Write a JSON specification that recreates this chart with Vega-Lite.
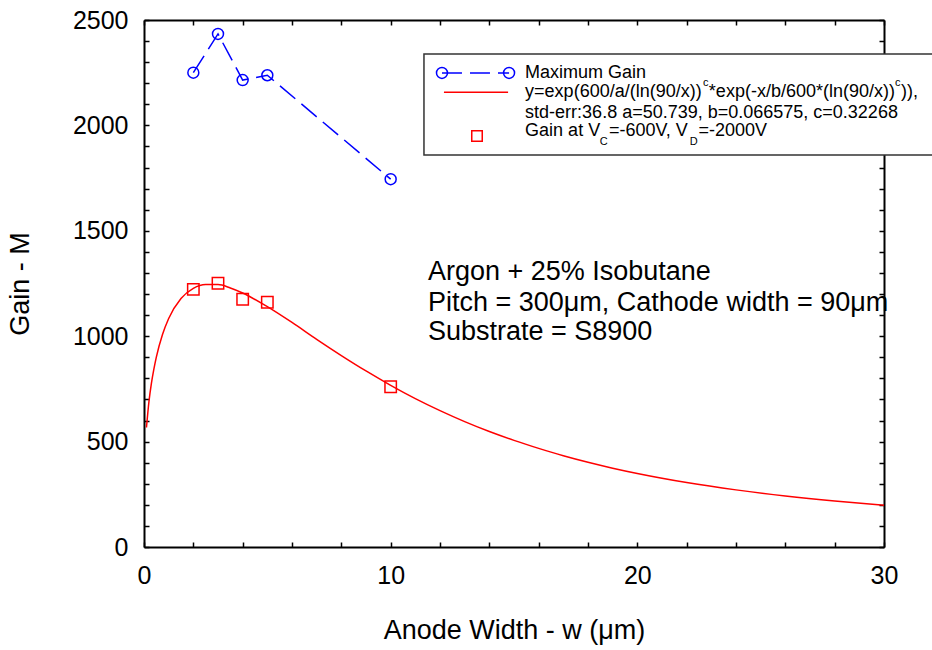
{
  "$schema": "https://vega.github.io/schema/vega-lite/v6.json",
  "width": 740,
  "height": 527,
  "autosize": {"type": "none"},
  "padding": {"left": 144, "top": 20, "right": 48, "bottom": 103},
  "background": "white",
  "config": {
    "view": {"stroke": null},
    "font": "Liberation Sans",
    "axis": {
      "grid": false,
      "domainColor": "black",
      "domainWidth": 2,
      "tickColor": "black",
      "tickWidth": 1.5,
      "tickSize": -5,
      "labelFont": "Liberation Sans",
      "labelFontSize": 25,
      "labelColor": "black",
      "labelOverlap": false,
      "labelFlush": false,
      "labelBound": false,
      "titleFont": "Liberation Sans",
      "titleFontSize": 27,
      "titleFontWeight": "normal",
      "titleColor": "black"
    }
  },
  "datasets": {
    "curve": [
      {"w": 0.1, "gain": 567}, {"w": 0.2, "gain": 689}, {"w": 0.3, "gain": 776}, {"w": 0.4, "gain": 844},
      {"w": 0.5, "gain": 901}, {"w": 0.75, "gain": 1008}, {"w": 1, "gain": 1084}, {"w": 1.5, "gain": 1179},
      {"w": 2, "gain": 1227}, {"w": 2.5, "gain": 1245}, {"w": 3, "gain": 1245}, {"w": 3.5, "gain": 1229},
      {"w": 4, "gain": 1205}, {"w": 5, "gain": 1140}, {"w": 6, "gain": 1065}, {"w": 7, "gain": 985},
      {"w": 8, "gain": 908}, {"w": 9, "gain": 835}, {"w": 10, "gain": 767}, {"w": 11, "gain": 704},
      {"w": 12, "gain": 647}, {"w": 13, "gain": 595}, {"w": 14, "gain": 548}, {"w": 15, "gain": 506},
      {"w": 16, "gain": 468}, {"w": 17, "gain": 433}, {"w": 18, "gain": 402}, {"w": 19, "gain": 374},
      {"w": 20, "gain": 349}, {"w": 22, "gain": 306}, {"w": 24, "gain": 271}, {"w": 26, "gain": 242},
      {"w": 28, "gain": 218}, {"w": 30, "gain": 198}
    ],
    "maxgain": [
      {"w": 2, "gain": 2250}, {"w": 3, "gain": 2434}, {"w": 4, "gain": 2215}, {"w": 5, "gain": 2238}, {"w": 10, "gain": 1745}
    ],
    "gain600": [
      {"w": 2, "gain": 1222}, {"w": 3, "gain": 1251}, {"w": 4, "gain": 1175}, {"w": 5, "gain": 1161}, {"w": 10, "gain": 760}
    ],
    "legendBox": [{"x1": 11.35, "x2": 33, "y1": 1860, "y2": 2339}],
    "legendBlue": [{"x": 12.08, "y": 2249}, {"x": 14.8, "y": 2249}],
    "legendRed": [{"x": 12.16, "y": 2157}, {"x": 14.76, "y": 2157}],
    "legendSquare": [{"x": 13.5, "y": 1950}],
    "legendText": [
      {"x": 15.45, "y": 2247, "label": "Maximum Gain", "role": "main"},
      {"x": 15.45, "y": 2157, "label": "y=exp(600/a/(ln(90/x))", "role": "main"},
      {"x": 22.66, "y": 2203, "label": "c", "role": "script"},
      {"x": 22.9, "y": 2157, "label": "*exp(-x/b/600*(ln(90/x))", "role": "main"},
      {"x": 30.45, "y": 2203, "label": "c", "role": "script"},
      {"x": 30.69, "y": 2157, "label": "))," , "role": "main"},
      {"x": 15.45, "y": 2061, "label": "std-err:36.8 a=50.739, b=0.066575, c=0.32268", "role": "main"},
      {"x": 15.45, "y": 1973, "label": "Gain at V", "role": "main"},
      {"x": 18.48, "y": 1921, "label": "C", "role": "script"},
      {"x": 18.85, "y": 1973, "label": "=-600V, V", "role": "main"},
      {"x": 22.13, "y": 1921, "label": "D", "role": "script"},
      {"x": 22.48, "y": 1973, "label": "=-2000V", "role": "main"}
    ],
    "notes": [
      {"x": 11.51, "y": 1306, "label": "Argon + 25% Isobutane"},
      {"x": 11.51, "y": 1156, "label": "Pitch = 300μm, Cathode width = 90μm"},
      {"x": 11.51, "y": 1018, "label": "Substrate = S8900"}
    ]
  },
  "layer": [
    {
      "data": {"name": "curve"},
      "mark": {"type": "line", "color": "#ff0000", "strokeWidth": 1.5, "interpolate": "monotone"},
      "encoding": {
        "x": {
          "field": "w", "type": "quantitative",
          "scale": {"domain": [0, 30], "nice": false},
          "axis": {
            "orient": "bottom",
            "values": [0, 2, 4, 6, 8, 10, 12, 14, 16, 18, 20, 22, 24, 26, 28, 30],
            "labelExpr": "datum.value % 10 === 0 ? datum.label : ''",
            "labelPadding": 21,
            "title": "Anode Width - w (μm)",
            "titlePadding": 29
          }
        },
        "y": {
          "field": "gain", "type": "quantitative",
          "scale": {"domain": [0, 2500], "nice": false},
          "axis": {
            "orient": "left",
            "values": [0, 100, 200, 300, 400, 500, 600, 700, 800, 900, 1000, 1100, 1200, 1300, 1400, 1500, 1600, 1700, 1800, 1900, 2000, 2100, 2200, 2300, 2400, 2500],
            "format": "d",
            "labelExpr": "datum.value % 500 === 0 ? datum.label : ''",
            "labelPadding": 21,
            "title": "Gain - M",
            "titlePadding": 38
          }
        }
      }
    },
    {
      "data": {"name": "gain600"},
      "mark": {"type": "point", "shape": "square", "filled": false, "color": "#ff0000", "size": 130, "strokeWidth": 1.5, "opacity": 1},
      "encoding": {
        "x": {"field": "w", "type": "quantitative", "axis": {"orient": "top", "values": [0, 2, 4, 6, 8, 10, 12, 14, 16, 18, 20, 22, 24, 26, 28, 30], "labels": false, "title": null}},
        "y": {"field": "gain", "type": "quantitative", "axis": {"orient": "right", "values": [0, 100, 200, 300, 400, 500, 600, 700, 800, 900, 1000, 1100, 1200, 1300, 1400, 1500, 1600, 1700, 1800, 1900, 2000, 2100, 2200, 2300, 2400, 2500], "labels": false, "title": null}}
      }
    },
    {
      "data": {"name": "maxgain"},
      "mark": {"type": "line", "color": "#0000ff", "strokeWidth": 1.5, "strokeDash": [20, 8]},
      "encoding": {
        "x": {"field": "w", "type": "quantitative", "axis": null},
        "y": {"field": "gain", "type": "quantitative", "axis": null}
      }
    },
    {
      "data": {"name": "maxgain"},
      "mark": {"type": "point", "shape": "circle", "filled": false, "color": "#0000ff", "size": 120, "strokeWidth": 1.5, "opacity": 1},
      "encoding": {
        "x": {"field": "w", "type": "quantitative", "axis": null},
        "y": {"field": "gain", "type": "quantitative", "axis": null}
      }
    },
    {
      "data": {"name": "notes"},
      "mark": {"type": "text", "align": "left", "baseline": "middle", "fontSize": 27, "font": "Liberation Sans", "color": "black"},
      "encoding": {
        "x": {"field": "x", "type": "quantitative", "axis": null},
        "y": {"field": "y", "type": "quantitative", "axis": null},
        "text": {"field": "label"}
      }
    },
    {
      "data": {"name": "legendBox"},
      "mark": {"type": "rect", "fill": "white", "stroke": "#333333", "strokeWidth": 1.5},
      "encoding": {
        "x": {"field": "x1", "type": "quantitative", "axis": null},
        "x2": {"field": "x2"},
        "y": {"field": "y1", "type": "quantitative", "axis": null},
        "y2": {"field": "y2"}
      }
    },
    {
      "data": {"name": "legendBlue"},
      "mark": {"type": "line", "color": "#0000ff", "strokeWidth": 1.5, "strokeDash": [20, 8]},
      "encoding": {
        "x": {"field": "x", "type": "quantitative", "axis": null},
        "y": {"field": "y", "type": "quantitative", "axis": null}
      }
    },
    {
      "data": {"name": "legendBlue"},
      "mark": {"type": "point", "shape": "circle", "filled": false, "color": "#0000ff", "size": 120, "strokeWidth": 1.5, "opacity": 1},
      "encoding": {
        "x": {"field": "x", "type": "quantitative", "axis": null},
        "y": {"field": "y", "type": "quantitative", "axis": null}
      }
    },
    {
      "data": {"name": "legendRed"},
      "mark": {"type": "line", "color": "#ff0000", "strokeWidth": 1.5},
      "encoding": {
        "x": {"field": "x", "type": "quantitative", "axis": null},
        "y": {"field": "y", "type": "quantitative", "axis": null}
      }
    },
    {
      "data": {"name": "legendSquare"},
      "mark": {"type": "point", "shape": "square", "filled": false, "color": "#ff0000", "size": 110, "strokeWidth": 1.5, "opacity": 1},
      "encoding": {
        "x": {"field": "x", "type": "quantitative", "axis": null},
        "y": {"field": "y", "type": "quantitative", "axis": null}
      }
    },
    {
      "data": {"name": "legendText"},
      "transform": [{"filter": "datum.role === 'main'"}],
      "mark": {"type": "text", "align": "left", "baseline": "middle", "fontSize": 18, "font": "Liberation Sans", "color": "black"},
      "encoding": {
        "x": {"field": "x", "type": "quantitative", "axis": null},
        "y": {"field": "y", "type": "quantitative", "axis": null},
        "text": {"field": "label"}
      }
    },
    {
      "data": {"name": "legendText"},
      "transform": [{"filter": "datum.role === 'script'"}],
      "mark": {"type": "text", "align": "left", "baseline": "middle", "fontSize": 11, "font": "Liberation Sans", "color": "black"},
      "encoding": {
        "x": {"field": "x", "type": "quantitative", "axis": null},
        "y": {"field": "y", "type": "quantitative", "axis": null},
        "text": {"field": "label"}
      }
    }
  ],
  "resolve": {"axis": {"x": "independent", "y": "independent"}}
}
